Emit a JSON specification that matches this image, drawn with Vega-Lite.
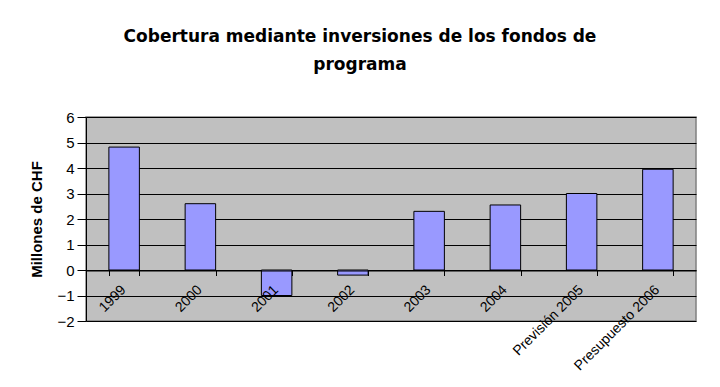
{
  "$schema": "https://vega.github.io/schema/vega-lite/v6.json",
  "width": 610,
  "height": 204,
  "autosize": {"type": "none"},
  "padding": {"left": 86, "top": 117, "right": 24, "bottom": 66},
  "background": "white",
  "title": {
    "text": ["Cobertura mediante inversiones de los fondos de", "programa"],
    "font": "DejaVu Sans",
    "fontSize": 17,
    "fontWeight": "bold",
    "color": "black",
    "lineHeight": 28,
    "anchor": "middle",
    "dx": -31,
    "offset": 36
  },
  "data": {
    "values": [
      {"categoria": "1999", "valor": 4.82},
      {"categoria": "2000", "valor": 2.6},
      {"categoria": "2001", "valor": -1.0},
      {"categoria": "2002", "valor": -0.2},
      {"categoria": "2003", "valor": 2.3},
      {"categoria": "2004", "valor": 2.55},
      {"categoria": "Previsión 2005", "valor": 3.0},
      {"categoria": "Presupuesto 2006", "valor": 3.95}
    ]
  },
  "mark": {"type": "bar", "fill": "#9999FF", "stroke": "black", "strokeWidth": 1},
  "encoding": {
    "x": {
      "field": "categoria",
      "type": "nominal",
      "sort": null,
      "scale": {"paddingInner": 0.6, "paddingOuter": 0.3},
      "axis": {
        "title": null,
        "offset": -50.5,
        "zindex": 1,
        "domainColor": "black",
        "tickColor": "black",
        "tickBand": "extent",
        "tickSize": 5,
        "labelAngle": -45,
        "labelAlign": "right",
        "labelBaseline": "middle",
        "labelPadding": 12,
        "labelOffset": -1,
        "labelFont": "Liberation Sans",
        "labelFontSize": 14,
        "labelColor": "black",
        "grid": false
      }
    },
    "y": {
      "field": "valor",
      "type": "quantitative",
      "scale": {"domain": [-2, 6], "nice": false, "zero": false},
      "axis": {
        "title": "Millones de CHF",
        "titleFont": "Liberation Sans",
        "titleFontSize": 15,
        "titleFontWeight": "bold",
        "titleColor": "black",
        "titlePadding": 12,
        "values": [-2, -1, 0, 1, 2, 3, 4, 5, 6],
        "format": "d",
        "domainColor": "black",
        "tickColor": "black",
        "tickSize": 9,
        "labelPadding": 3,
        "labelFont": "Liberation Sans",
        "labelFontSize": 15,
        "labelColor": "black",
        "grid": true,
        "gridColor": "black",
        "gridOpacity": 1,
        "gridWidth": 1
      }
    }
  },
  "config": {
    "view": {"fill": "#C0C0C0", "stroke": "#808080", "strokeWidth": 1.5}
  }
}
